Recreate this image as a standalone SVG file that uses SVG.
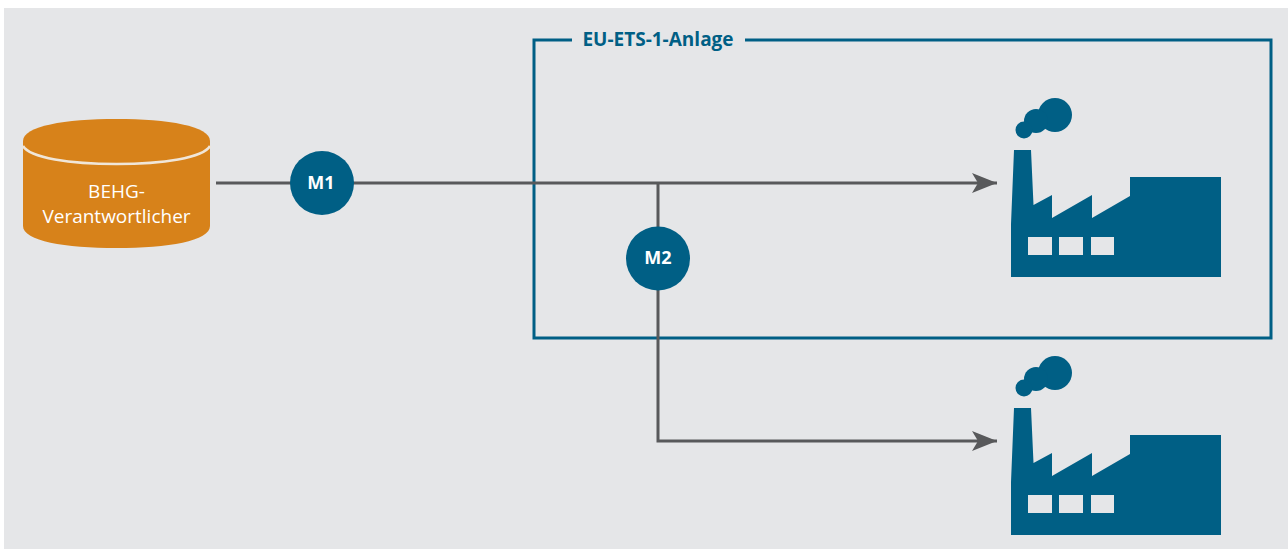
<svg xmlns="http://www.w3.org/2000/svg" width="1288" height="550" viewBox="0 0 1288 550">
<defs>
<style>
.conn{fill:none;stroke:#58595b;stroke-width:3}
.badge{fill:#005f85}
.badgeText{font-family:"Open Sans","Noto Sans",sans-serif;font-weight:700;font-size:18px;fill:#fff;text-anchor:middle}
.dbText{font-family:"Open Sans","Noto Sans",sans-serif;font-size:19px;fill:#fff;text-anchor:middle}
</style>
<marker id="arrow" markerUnits="userSpaceOnUse" markerWidth="26" markerHeight="20" refX="25" refY="10" orient="auto">
<path d="M0 0L25 10L0 20L6 10Z" fill="#58595b"/>
</marker>
<g id="factory">
<path fill-rule="evenodd" fill="#005f85" d="M1011 277V224L1014 150H1031L1033.500 205L1052 195V218L1092 195V218L1130 196V177H1221V277ZM1028 237V255H1052V237ZM1059 237V255H1083V237ZM1091 237V255H1114V237Z"/>
<circle cx="1055" cy="115" r="17" fill="#005f85"/>
<circle cx="1036" cy="121" r="12" fill="#005f85"/>
<circle cx="1024" cy="130" r="8.500" fill="#005f85"/>
</g>
</defs>
<rect x="0" y="0" width="1288" height="550" fill="#fff"/>
<rect x="4" y="8" width="1284" height="541" fill="#e5e6e8"/>
<g id="frame">
<path d="M572 40H534V338H1271V40H745" fill="none" stroke="#005f85" stroke-width="3"/>
<text x="658" y="46" font-family="'Open Sans','Noto Sans',sans-serif" font-weight="700" font-size="19" fill="#005f85" text-anchor="middle">EU-ETS-1-Anlage</text>
</g>
<g id="connectors">
<path class="conn" d="M216 183H997" marker-end="url(#arrow)"/>
<path class="conn" d="M658 183V441H997" marker-end="url(#arrow)"/>
</g>
<g id="behg">
<path d="M23 141C23 126 65 119 116.500 119S210 126 210 141V226C210 241 168 248 116.500 248S23 241 23 226Z" fill="#d7821a"/>
<path d="M23 146C30 158 70 164 116.500 164S203 158 210 146" fill="none" stroke="#f0e6d8" stroke-width="2.500"/>
<text class="dbText" x="116.500" y="198">BEHG-</text>
<text class="dbText" x="116.500" y="223">Verantwortlicher</text>
</g>
<g id="m1"><circle class="badge" cx="322" cy="183" r="32"/><text class="badgeText" x="321" y="189">M1</text></g>
<g id="m2"><circle class="badge" cx="658" cy="258.500" r="32"/><text class="badgeText" x="658" y="264">M2</text></g>
<g id="factory-1"><use href="#factory"/></g>
<g id="factory-2"><use href="#factory" y="258"/></g>
</svg>
